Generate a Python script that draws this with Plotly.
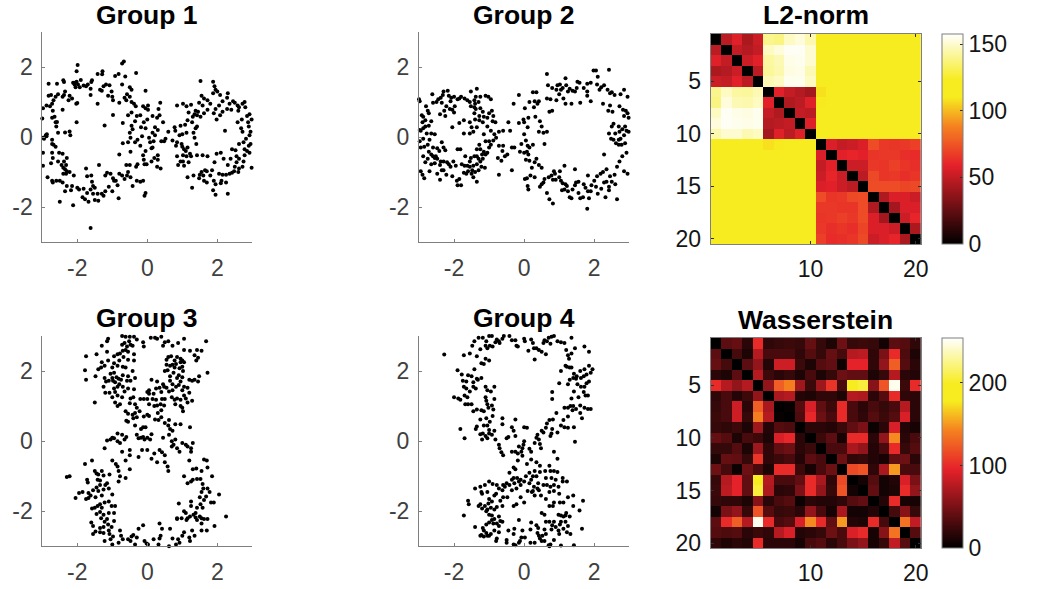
import plotly.graph_objects as go

group1 = [(-0.67,2.16),(-0.72,2.10),(-1.99,2.06),(-2.02,1.88),(-1.28,1.88),(-1.42,1.80),(-1.29,1.79),(-0.82,1.80),(-0.92,1.74),(-0.63,1.73),(-0.32,1.83),
(-2.82,1.52),(-2.58,1.52),(-2.40,1.62),(-2.38,1.57),(-2.07,1.55),(-2.12,1.55),(-2.02,1.58),(-1.98,1.50),(-1.90,1.63),(-2.08,1.50),(-2.05,1.42),(-1.93,1.42),(-1.82,1.47),(-1.75,1.45),(-1.62,1.38),(-1.60,1.57),(-1.58,1.62),(-1.35,1.35),(-1.25,1.45),(-1.18,1.50),(-1.08,1.48),(-1.30,1.32),(-0.72,1.50),(-0.50,1.42),(-0.45,1.35),(-0.05,1.32),(-1.12,1.18),(-1.02,1.30),(-1.00,1.15),(-0.98,1.05),(-0.80,0.98),(-0.65,1.12),(-0.60,1.05),(-0.58,1.22),(-0.50,1.15),(-0.45,1.00),(-0.38,0.95),(-0.33,0.88),(-1.62,1.20),(-1.42,0.95),
(-3.00,0.53),(-2.98,0.82),(-2.88,0.90),(-2.82,1.18),(-2.78,0.88),(-2.72,0.95),(-2.70,0.75),(-2.65,0.58),(-2.62,1.15),(-2.55,1.22),(-2.68,1.05),(-2.72,0.55),(-2.62,0.42),(-2.58,0.43),(-2.60,0.30),(-2.55,0.12),(-2.35,1.30),(-2.42,1.15),(-2.38,1.20),(-2.25,1.05),(-2.22,1.18),(-2.15,1.10),(-2.42,0.78),(-2.03,0.95),(-2.00,0.97),(-2.02,0.42),(-2.35,0.13),(-2.22,0.16),(-2.20,0.05),(-2.90,0.05),(-2.87,0.08),(-2.98,-0.02),(-2.95,-0.05),(-2.88,0.02),(-2.72,-0.08),(-2.72,-0.20),(-2.62,-0.28),(-2.98,-0.45),(-2.98,-0.82),(-2.68,-0.22),(-2.72,-0.45),(-2.70,-0.60),(-2.52,-0.45),(-2.42,-0.48),(-2.55,-0.70),(-2.45,-0.80),(-2.40,-0.88),(-2.32,-0.80),(-2.35,-0.92),(-2.30,-0.98),(-2.75,-0.75),(-2.85,-1.15),(-2.72,-1.25),(-2.70,-1.30),(-2.60,-1.25),(-2.50,-1.25),(-2.40,-1.05),(-2.32,-1.05),(-2.22,-1.00),(-2.42,-1.30),(-2.35,-1.55),(-2.30,-1.40),(-2.10,-1.10),(-2.15,-1.40),(-2.00,-1.45),(-1.95,-1.50),(-2.50,-1.85),(-2.12,-1.95),(-2.18,-1.52),
(-1.75,-0.90),(-1.72,-1.12),(-1.60,-1.10),(-1.38,-0.80),(-1.58,-1.28),(-1.55,-1.40),(-1.50,-1.45),(-1.62,-1.50),(-1.72,-1.60),(-1.82,-1.48),(-1.85,-1.72),(-1.78,-1.78),(-1.68,-1.85),(-1.55,-1.62),(-1.50,-1.80),(-1.42,-1.62),(-1.40,-1.82),(-1.30,-1.62),(-1.25,-1.68),(-1.20,-1.55),(-1.10,-1.42),(-1.20,-1.10),(-1.15,-1.02),(-1.05,-1.05),(-0.98,-1.18),(-0.95,-1.25),(-1.00,-1.55),(-0.90,-1.25),(-0.85,-1.38),(-0.82,-1.75),(-0.80,-1.05),(-0.72,-1.10),(-0.60,-0.80),(-1.62,-2.60),(-0.65,-1.20),(-0.80,-0.50),(-0.58,-1.10),
(-0.50,-0.80),(-0.55,-1.00),(-0.48,-1.15),(-0.42,-1.40),(-0.30,-1.25),(-0.32,-0.85),(-0.28,-0.78),(-0.20,-1.28),(-0.12,-1.25),(-0.08,-0.78),(-0.02,-0.78),(-0.05,-1.60),(-0.08,-1.68),(0.28,-0.85),(0.38,-0.90),(0.30,-0.65),(-0.70,-0.18),(-0.55,-0.15),(-0.48,-0.02),(-0.50,0.12),(-0.42,0.22),(-0.45,0.32),(-0.48,-0.42),(-0.35,-0.15),(-0.28,-0.08),(-0.20,-0.25),(-0.15,0.02),(-0.12,-0.52),(-0.10,-0.65),(-0.05,-0.40),(-0.18,0.28),(-0.10,0.42),(-0.05,0.25),(0.00,0.50),(0.05,-0.02),(0.08,-0.15),(0.15,-0.30),(0.15,0.12),(0.22,0.05),(0.12,-0.32),(0.18,-0.12),(0.30,-0.52),(0.20,-0.60),(0.12,-0.70),(0.30,0.20),(0.45,0.42),(0.28,0.55),(0.22,0.28),(0.15,0.60),(0.35,0.62),(0.32,0.80),(0.37,0.98),(-0.55,0.62),(-0.45,0.70),(-0.30,0.60),(-0.20,0.62),(-0.05,0.82),(-0.12,0.88),(0.02,0.78),(0.02,0.90),(-1.22,0.33),(-0.98,0.63),
(0.40,-0.12),(0.48,-0.12),(0.52,-0.05),(0.60,0.15),(0.72,-0.10),(0.78,0.28),(0.80,0.18),(0.82,-0.25),(0.85,-0.15),(0.85,-0.55),(0.88,-0.80),(0.92,0.05),(0.95,0.32),(0.98,-0.20),(1.00,0.08),(1.02,-0.52),(1.05,-0.35),(1.05,-0.82),(1.08,0.35),(1.12,0.12),(1.15,0.48),(1.18,-0.72),(1.22,-0.48),(1.25,-0.55),(1.28,0.42),(1.32,0.12),(1.35,-0.02),(1.38,0.25),(1.42,0.30),(0.85,0.90),(1.02,0.95),(1.12,0.88),(1.18,0.70),(1.25,0.92),(1.38,0.75),(1.42,0.62),(1.52,0.58),(1.58,0.90),(1.55,1.18),(1.52,1.60),(1.62,1.10),(1.72,1.05),(1.48,0.98),(1.88,1.58),(1.92,1.45),(1.95,1.35),(2.00,1.30),(1.88,1.25),(2.08,1.20),(2.30,1.25),(2.28,1.12),(2.15,1.02),(2.05,0.90),(1.95,0.80),(1.90,0.68),(1.98,0.50),(2.08,0.62),(2.15,0.72),(2.28,0.80),(2.40,0.78),(2.45,1.02),(2.50,0.98),(2.58,0.90),(2.62,0.85),(2.72,0.95),(2.78,1.00),(2.85,0.60),(2.92,0.65),(2.70,0.50),(2.58,0.42),(2.68,0.25),(2.72,0.15),(2.88,0.42),(2.90,0.30),(2.98,0.50),(2.95,0.15),(2.92,0.05),(2.82,-0.05),(2.75,-0.15),(2.62,-0.20),(2.52,-0.38),(2.42,-0.35),(2.22,0.18),(2.98,-0.88),
(2.90,-0.25),(2.85,-0.40),(2.92,-0.45),(2.78,-0.52),(2.62,-0.62),(2.55,-0.72),(2.62,-0.90),(2.72,-0.85),(2.48,-0.98),(2.42,-1.02),(2.35,-1.05),(2.25,-1.08),(2.15,-1.08),(2.05,-1.05),(2.30,-0.80),(2.18,-0.62),(2.10,-0.45),(1.98,-0.48),(1.92,-0.72),(1.85,-0.95),(1.80,-1.10),(1.90,-1.25),(1.95,-1.35),(2.10,-1.32),(2.25,-1.30),(2.30,-1.62),(1.88,-1.52),(1.95,-1.65),(1.65,-0.95),(1.55,-1.00),(1.50,-1.08),(1.48,-1.18),(1.62,-1.25),(1.70,-1.30),(1.72,-0.55),(1.58,-0.52),(1.42,-0.52),(1.32,-1.10),(1.15,-1.15),(1.12,-0.55),(1.28,-1.45),(1.40,-0.20),
(1.00,-0.28),(1.10,-0.40),(1.15,-0.30),(0.95,-0.70),(1.02,-0.70),(1.30,0.58),(1.35,0.65),(1.45,0.72),(1.62,0.68),(1.72,0.78),(1.80,0.95),(2.35,0.95),(2.60,0.75),(2.80,0.85),(2.55,-0.55),(2.75,-0.70),(2.38,-0.62),(2.50,-0.85),(2.60,-1.00),(2.12,-1.25),(1.70,-0.98),(1.60,-1.10),(2.95,-0.20),(2.78,-0.35),(-2.30,-0.60),(-2.38,-0.70),(-1.70,1.50),(-2.75,1.20),(-0.35,0.45),(-0.70,0.40)]

group2 = [(-3.00,1.08),(-2.98,1.02),(-2.92,0.62),(-2.88,0.58),(-2.80,0.88),(-2.75,0.75),(-2.72,0.68),(-2.62,1.22),(-2.60,0.98),(-2.50,1.00),(-2.45,1.08),(-2.38,1.12),(-2.30,1.30),(-2.32,1.20),(-2.18,1.32),(-2.15,1.18),(-2.08,1.12),(-2.00,1.15),(-1.90,1.08),(-1.85,1.10),(-1.80,1.15),(-1.70,1.10),(-1.62,1.05),(-1.55,1.00),(-1.52,1.30),(-1.35,1.38),(-1.38,1.15),(-1.25,1.15),(-1.10,1.18),(-1.02,1.15),(-0.95,1.08),(-1.30,1.00),(-1.40,0.95),(-1.42,0.85),(-1.38,0.80),(-1.25,0.82),(-1.18,0.72),(-1.42,0.68),(-1.28,0.60),(-1.15,0.58),(-1.05,0.55),(-1.00,0.68),(-0.92,0.75),(-0.88,0.60),(-0.82,0.42),(-0.90,0.45),(-0.95,0.18),(-1.05,0.30),(-1.18,0.42),(-1.28,0.48),(-1.40,0.50),(-1.55,0.42),(-1.72,0.48),(-1.50,0.28),(-1.55,0.10),(-1.72,0.10),(-1.85,0.40),(-2.05,0.28),(-2.28,0.75),(-2.22,0.88),(-2.12,0.80),(-2.05,0.78),(-1.98,0.88),(-2.00,0.70),(-2.25,0.60),(-2.40,0.65),(-2.65,0.45),(-2.82,0.48),(-2.90,0.42),(-2.98,0.20),(-2.95,0.18),(-2.88,0.25),(-2.82,0.30),(-2.72,0.32),(-2.65,0.10),(-2.55,0.08),(-2.70,-0.08),
(-2.98,-0.12),(-2.95,-0.30),(-2.85,-0.28),(-2.75,-0.22),(-2.72,-0.42),(-2.65,-0.50),(-2.60,-0.55),(-2.52,-0.55),(-2.48,-0.32),(-2.42,-0.40),(-2.35,-0.15),(-2.30,-0.30),(-2.25,-0.38),(-2.88,-0.55),(-2.82,-0.72),(-2.75,-0.62),(-2.65,-0.78),(-2.55,-0.75),(-2.48,-0.62),(-2.38,-0.70),(-2.30,-0.70),(-2.20,-0.72),(-2.15,-0.78),(-2.02,-0.70),(-2.10,-0.85),(-1.95,-0.82),(-1.90,-0.35),(-1.82,-0.35),(-1.68,-0.55),(-1.52,-0.60),(-1.42,-0.55),(-1.70,-0.82),(-1.62,-0.82),(-1.55,-0.85),(-1.45,-0.82),(-1.35,-0.78),(-1.25,-0.70),(-1.18,-0.62),(-1.10,-0.50),(-1.05,-0.45),(-1.00,-0.30),(-1.15,-0.42),(-1.25,-0.35),(-1.35,-0.55),(-1.22,-0.85),(-1.12,-0.88),(-2.95,-0.98),(-2.90,-1.08),(-2.85,-1.18),(-2.70,-0.98),(-2.48,-1.05),(-2.40,-1.22),(-2.30,-0.95),(-2.22,-1.08),(-2.05,-1.12),(-1.92,-1.25),(-1.85,-1.20),(-1.80,-1.38),(-1.72,-1.02),(-1.65,-1.05),(-1.60,-0.98),(-1.50,-1.05),(-1.40,-1.00),(-1.30,-0.95),(-1.45,-1.15),(-1.35,-1.28),(-1.90,-1.38),
(-0.80,-0.02),(-0.88,-0.10),(-1.00,-0.12),(-0.95,-0.22),(-0.85,0.08),(-0.72,-0.25),(-0.60,-0.25),(-0.72,0.15),(-0.60,0.18),(-0.45,0.42),(-0.40,0.18),(-0.35,-0.30),(-0.28,-0.30),(-0.62,-0.40),(-0.55,-0.55),(-0.48,-0.50),(-0.75,-0.60),(-0.65,-0.68),(-0.72,-1.08),(-0.35,-0.95),(-0.15,0.40),(-0.30,0.95),(-0.15,1.20),(0.00,0.08),(0.05,-0.10),(0.10,-0.25),(0.15,-0.30),(-0.08,-0.20),(-0.12,-0.42),(0.00,-0.45),(0.08,-0.42),(0.12,-0.50),(0.05,-0.65),(0.15,-0.68),(0.25,-0.22),(0.30,-0.72),(0.35,-0.62),(0.42,-0.80),(0.50,-0.88),(0.22,-0.88),(-0.02,0.50),(0.00,0.42),(0.10,0.28),(0.12,0.55),(0.02,0.82),(0.15,1.00),(0.28,0.85),(0.32,0.58),(0.38,0.95),(0.30,1.02),(0.35,1.28),(0.25,1.28),(0.42,1.02),(0.45,0.45),(0.42,0.15),(0.50,0.30),(0.55,0.12),(0.58,-0.20),(0.65,0.15),(0.08,-1.18),(0.02,-1.20),(0.10,-1.40),(0.18,-1.10),(0.12,-1.50),(0.30,-1.15),(0.45,-1.42),(0.50,-1.35),(0.55,-1.30),(0.58,-1.20),(0.65,-1.60),(0.72,-1.78),(0.82,-1.90),(0.70,-1.15),(0.78,-1.10),(0.82,-1.22),(0.88,-1.05),(0.85,-0.98),(0.90,-1.22),(1.00,-1.15),(1.05,-1.25),(1.10,-1.32),(1.15,-1.50),(1.08,-1.52),(1.18,-1.35),(1.02,-0.98),(1.22,-1.40),(1.25,-1.55),(1.30,-1.72),(1.38,-1.50),(1.45,-1.38),(1.48,-1.30),(1.55,-1.28),(1.45,-0.92),(1.15,-0.82),
(0.65,1.80),(0.68,1.48),(0.65,1.10),(0.75,1.08),(0.72,0.72),(0.80,0.75),(0.80,1.40),(0.92,1.35),(0.95,1.48),(1.02,1.50),(1.05,1.35),(1.10,1.40),(1.18,1.68),(1.20,1.48),(0.92,1.05),(1.00,1.22),(1.12,1.10),(1.18,0.95),(1.35,0.95),(1.38,1.32),(1.45,1.30),(1.50,1.40),(1.52,1.58),(1.58,1.55),(1.60,0.98),(1.70,1.40),(1.80,1.30),(1.80,1.52),(1.90,1.55),(1.80,1.18),(1.90,1.02),(1.98,1.90),(2.05,1.90),(2.10,1.72),(2.08,1.50),(2.15,1.35),(2.20,1.42),(2.28,1.48),(2.42,1.92),(2.38,1.35),(2.50,1.28),(2.58,1.20),(2.45,1.25),(2.45,0.90),(2.25,0.95),(2.40,0.75),(2.52,0.72),(2.75,1.22),(2.85,1.35),(2.95,1.15),(2.72,0.88),(2.82,0.78),(2.90,0.75),(2.95,0.68),(2.85,0.60),(2.98,0.55),(2.88,0.30),(2.80,0.22),(2.70,0.30),(2.55,0.38),(2.50,0.30),(2.42,0.10),(2.92,0.18),(2.98,0.15),(2.48,-0.05),(2.55,-0.08),(2.70,-0.08),(2.75,-0.05),(2.88,-0.18),(2.70,-0.22),(2.78,-0.22),(2.92,-0.45),(2.80,-0.55),(2.28,-0.50),(2.72,-0.70),(2.65,-0.85),(2.85,-0.98),(2.95,-1.05),(2.58,-1.08),(2.45,-1.12),(2.35,-0.92),(2.25,-1.00),(2.18,-1.05),(2.08,-1.12),(2.00,-1.25),(2.28,-1.30),(2.35,-1.28),(2.50,-1.28),(2.60,-1.35),(2.42,-1.42),(2.42,-1.52),(2.20,-1.48),(2.05,-1.42),(1.92,-1.38),(2.10,-1.62),(2.32,-1.72),(2.65,-1.78),(1.80,-2.05),(1.85,-1.75),(1.68,-1.72),(1.60,-1.75),(1.55,-1.60),(1.82,-1.55),(1.90,-1.55),(1.82,-1.10),(1.75,-1.45),(1.70,-1.35),(1.35,-1.75),
(-2.40,-0.80),(-2.35,-0.95),(-2.55,-0.60),(-1.78,-0.78),(-1.55,-0.70),(-1.48,-0.95),(-1.30,-0.62),(-1.35,-0.35),(-1.20,-0.50),(-1.28,-0.22),(-1.45,0.15),(-1.35,0.28),(-1.15,0.08),(-1.10,-0.12),(-1.42,1.05),(-1.52,0.88),(-2.35,0.98),(-2.10,1.02),(-2.78,0.10),(-2.88,-0.05),(-2.60,-0.30),(2.60,0.10),(2.62,-0.18),(2.72,0.15),(2.85,0.05),(1.25,1.30),(1.30,1.38)]

group3 = [(-1.12,2.92),(-1.15,2.85),(-0.72,3.00),(-0.62,2.98),(-0.50,2.98),(-0.38,2.98),(-0.30,2.90),(-0.52,2.85),(-0.65,2.80),(-0.72,2.75),(-0.58,2.70),(-0.48,2.75),(-0.42,2.72),(-0.12,2.82),(-0.10,2.70),(0.10,2.95),(0.22,2.95),(0.28,2.92),(0.40,2.98),(0.60,2.85),(0.50,2.82),(0.45,2.72),(0.72,2.72),(0.88,2.80),(1.05,2.92),(1.05,2.60),(1.68,2.85),(1.22,2.58),(1.35,2.45),(1.42,2.60),(1.55,2.58),(1.45,2.38),(1.40,2.30),(-1.75,2.42),(-1.45,2.48),(-1.15,2.55),(-1.30,2.72),(-0.95,2.42),(-0.85,2.48),(-0.78,2.50),(-0.70,2.58),(-0.62,2.60),(-0.55,2.55),(-0.38,2.48),(-0.55,2.32),(-0.38,2.30),(-0.80,2.30),(-0.95,2.22),(-1.12,2.30),(-1.22,2.15),(-1.32,2.10),(-1.30,2.25),(-1.00,2.10),(-0.85,2.15),(-0.70,2.12),(-0.62,2.10),(-0.42,2.00),(-1.78,2.02),(-1.75,1.75),(-1.48,1.85),(-1.40,2.05),(-1.22,1.80),(-1.18,1.70),(-1.10,1.72),(-1.00,1.80),(-0.98,1.72),(-0.92,1.68),(-0.88,1.82),(-0.82,1.78),(-0.70,1.88),(-0.55,1.85),(-0.35,1.80),(-0.80,1.62),(-0.85,1.55),(-0.70,1.55),(-0.65,1.42),(-0.55,1.50),(-0.48,1.72),(-0.38,1.48),(-1.25,1.55),(-1.20,1.38),(-1.08,1.38),(-0.95,1.50),(-0.92,1.40),(-1.00,1.25),(-0.85,1.30),(-0.72,1.25),(-1.50,1.10),(-0.92,1.10),(-0.85,1.00),(-0.78,1.05),(-0.48,1.22),(-0.40,1.25),(-0.50,1.08),(-0.35,1.05),(-0.30,0.95),(-0.62,0.85),(-0.55,0.78),(-0.42,0.75),(-0.35,0.80),(-0.22,0.85),(-0.60,0.58),(-0.55,0.55),(-0.40,0.65),(-0.30,0.68),(-0.10,0.70),(0.00,0.75),(0.05,0.72),(0.05,1.45),(0.05,1.35),(0.00,1.40),(-0.20,1.20),(-0.10,1.20),(0.00,1.20),(0.15,1.20),(0.25,1.18),(0.05,1.05),(0.20,1.00),(0.28,1.02),(0.38,1.05),(0.48,1.02),(0.42,1.20),(0.50,1.20),(0.40,0.88),(0.30,0.80),(0.22,0.62),(0.32,0.60),(0.40,0.68),(0.50,0.52),(0.62,0.60),(0.60,0.45),(0.25,1.50),(0.35,1.52),(0.40,1.40),(0.48,1.55),(0.55,1.52),(0.62,1.42),(0.28,1.70),(0.45,1.62),(0.12,1.75),(0.65,1.72),(0.72,1.62),(0.82,1.55),(0.90,1.60),(0.95,1.70),(1.05,1.55),(1.15,1.52),(1.20,1.38),(1.05,1.30),(0.85,1.22),(0.78,1.18),(0.70,1.25),(0.95,1.18),(1.10,1.22),(1.28,1.15),(0.80,1.05),(0.95,1.00),(1.00,0.95),(1.02,0.85),(0.65,1.85),(0.75,1.95),(0.85,1.80),(0.90,1.88),(1.00,1.82),(1.02,2.00),(0.92,2.08),(1.00,2.12),(0.78,2.10),(0.72,2.18),(0.55,2.18),(0.50,2.00),(0.58,2.02),(0.65,2.15),(0.55,2.32),(0.60,2.40),(0.68,2.42),(0.78,2.30),(0.85,2.40),(0.95,2.35),(0.95,2.25),(1.00,2.30),(1.05,2.25),(1.20,1.75),(1.28,1.72),(1.35,1.75),(1.45,1.70),(1.48,1.85),
(1.72,1.95),(-0.35,0.45),(0.65,0.35),(0.80,0.48),(0.72,0.30),(0.95,0.48),(1.22,0.40),(-0.30,0.18),(-0.18,0.35),(-0.12,0.40),(-0.05,0.40),(-0.25,0.08),(-0.18,0.10),(-0.12,0.12),(-0.08,0.05),(0.00,0.10),(0.08,0.05),(0.12,0.20),(0.45,0.10),(0.62,0.18),(-0.72,0.18),(-0.85,0.22),(-1.00,0.10),(-0.95,0.08),(-1.15,0.02),(-1.05,0.05),(-0.85,0.00),(-0.78,-0.05),(-0.65,0.05),(-0.60,0.12),(-1.22,-0.20),(-0.72,-0.30),(-0.50,-0.25),(-0.15,-0.25),(0.00,-0.25),(0.12,-0.50),(0.20,-0.35),(0.28,-0.60),(0.35,-0.25),(0.42,-0.32),(0.50,-0.40),(0.75,-0.10),(0.70,-0.15),(0.85,-0.20),(0.70,0.00),(0.80,0.05),(0.92,-0.30),(1.00,-0.05),(1.10,-0.10),(1.15,-0.15),(1.25,-0.20),(1.30,-0.05),(1.25,-0.30),(1.20,-0.55),(0.50,-0.60),(0.58,-0.72),(0.60,-0.85),
(-1.58,-0.55),(-0.90,-0.65),(-1.00,-0.55),(-0.85,-0.72),(-0.62,-0.55),(-0.50,-0.40),(-0.25,-0.45),(-1.78,-0.65),(-1.50,-0.85),(-1.40,-0.95),(-1.30,-0.85),(-1.45,-0.92),(-1.25,-0.98),(-1.08,-0.95),(-0.82,-0.85),(-0.78,-1.00),(-0.62,-1.05),(-0.50,-0.80),(-2.30,-1.02),(-2.22,-1.00),(-1.72,-1.10),(-1.70,-1.18),(-1.35,-1.12),(-1.35,-1.25),(-1.45,-1.32),(-1.40,-1.42),(-1.20,-1.25),(-1.15,-1.20),(-0.82,-1.15),(-1.00,-1.52),(-1.55,-1.40),(-1.68,-1.48),(-1.85,-1.45),(-1.95,-1.48),(-2.05,-1.62),(-1.75,-1.65),(-1.68,-1.62),(-1.62,-1.55),(-1.48,-1.60),(-1.30,-1.55),(-1.22,-1.75),(-1.10,-1.72),(-1.58,-1.92),(-1.50,-1.90),(-1.42,-1.85),(-1.35,-1.80),(-1.30,-1.90),(-1.02,-1.85),(-0.92,-1.85),(-1.35,-2.02),(-1.25,-2.10),(-1.10,-2.05),(-0.95,-2.05),(-1.15,-2.22),(-1.22,-2.30),(-0.95,-2.28),(-1.60,-2.32),(-1.55,-2.42),(-1.48,-2.58),(-1.35,-2.48),(-1.25,-2.45),(-1.12,-2.38),(-1.35,-2.60),(-1.10,-2.55),(-1.25,-2.62),(-1.55,-2.65),(-1.08,-2.65),(-1.22,-2.85),(-1.05,-2.80),(-0.98,-2.72),(-1.00,-2.95),(-0.78,-2.55),(-0.75,-2.70),(-0.70,-2.80),(-0.55,-2.80),(-0.45,-2.72),(-0.40,-2.68),(-0.30,-2.75),(-0.48,-2.85),(-0.35,-2.95),(-0.25,-2.50),(-0.12,-2.40),(-0.08,-2.85),(-0.02,-2.92),(0.02,-2.95),(0.18,-2.80),(0.32,-2.95),(0.35,-2.78),(0.38,-2.70),(0.35,-2.35),(0.42,-2.50),(0.65,-2.50),(0.62,-3.00),(0.72,-2.78),(0.82,-2.95),(0.92,-2.90),(0.88,-2.80),(1.05,-2.60),(1.00,-2.70),(1.20,-2.75),(1.35,-2.70),(1.28,-2.55),(1.22,-2.85),(0.85,-2.20),(0.85,-2.22),(0.98,-2.20),(1.05,-2.00),(1.12,-2.25),(1.15,-2.20),(1.22,-2.15),(1.25,-1.85),(1.25,-1.72),(1.32,-2.10),(1.38,-2.18),(1.42,-2.25),(1.50,-2.15),(1.55,-2.20),(1.62,-2.22),(1.72,-2.22),(1.55,-2.35),(1.55,-2.55),(1.70,-2.55),(1.92,-2.42),(2.25,-2.15),(1.50,-1.60),(1.52,-1.80),(1.58,-1.90),(0.90,-1.78),(1.55,-1.45),(1.60,-1.35),(1.72,-1.35),(1.78,-1.45),(1.82,-1.75),(1.90,-1.75),(2.05,-1.52),(1.58,-1.22),(1.30,-1.10),(1.42,-1.08),(1.52,-1.08),(1.25,-1.15),(1.05,-1.00),(1.15,-1.20),(1.55,-0.85),(1.40,-0.78),(1.30,-0.80),(1.72,-0.75),(1.62,-0.52),(1.70,-0.55),(1.85,-1.00),
(-1.42,-1.10),(-1.25,-1.38),(-1.10,-1.35),(-1.45,-2.08),(-1.32,-2.20),(-1.02,-2.45),(-0.82,-2.90),(1.10,-2.05),(1.38,-2.05),(1.42,-1.90),(1.62,-1.68),(1.68,-1.58),(-0.58,1.72),(-0.75,1.75),(-0.95,1.95),(-1.05,1.92),(-0.68,2.40),(0.82,2.20),(0.72,1.45),(1.00,1.45),(0.18,1.35),(1.15,1.10)]

group4 = [(-2.28,2.47),(-1.72,2.45),(-1.55,2.50),(-1.48,2.72),(-1.42,2.85),(-1.30,2.95),(-1.18,2.95),(-1.00,3.00),(-0.92,3.00),(-1.08,2.85),(-1.10,2.72),(-1.05,2.65),(-0.98,2.72),(-0.90,2.70),(-0.82,2.82),(-0.78,2.90),(-0.72,2.85),(-0.70,2.80),(-0.62,2.92),(-0.58,3.00),(-0.42,3.00),(-0.35,2.88),(-0.25,2.88),(-0.18,2.70),(-0.22,2.72),(0.00,2.92),(0.02,2.85),(0.20,2.90),(0.25,2.80),(0.28,2.65),(0.35,2.65),(0.12,2.58),(0.30,2.33),(0.42,2.60),(0.50,2.55),(0.55,2.80),(0.58,2.88),(0.65,2.85),(0.70,2.95),(0.78,2.98),(0.85,3.00),(0.62,2.48),(0.75,2.78),(0.95,2.85),(1.05,2.82),(1.15,2.80),(1.35,2.95),(1.20,2.60),(1.45,2.65),(1.72,2.70),(1.85,2.55),
(-1.25,2.62),(-1.35,2.42),(-1.10,2.35),(-1.00,2.30),(-1.22,2.22),(-1.15,2.20),(-1.42,2.05),(-1.50,1.85),(-1.90,2.02),(-1.78,1.90),(-1.75,1.72),(-1.65,1.70),(-1.60,1.88),(-1.45,1.68),(-1.35,1.78),(-1.32,1.75),(-1.22,1.80),(-1.72,1.55),(-1.65,1.50),(-1.55,1.42),(-1.45,1.55),(-1.38,1.50),(-1.10,1.55),(-1.05,1.45),(-0.85,1.55),(-0.95,1.42),(-2.00,1.25),(-1.88,1.22),(-1.82,1.18),(-1.70,1.30),(-1.62,1.25),(-1.68,1.05),(-1.60,1.05),(-1.50,1.05),(-1.10,1.25),(-1.08,1.15),(-0.85,1.20),(-1.05,1.05),(-1.02,0.95),(-0.92,1.02),(-1.45,0.85),(-1.35,0.90),(-1.22,0.88),(-1.15,0.85),(-0.88,0.90),(-1.25,0.62),(-1.08,0.65),(-0.90,0.72),(-0.98,0.55),(-0.62,0.65),(-0.62,0.48),(-1.82,0.35),(-1.35,0.42),(-1.38,0.35),(-1.15,0.45),(-1.05,0.45),(-1.00,0.32),(-0.85,0.30),(-1.25,0.20),(-1.18,0.22),(-1.10,0.15),(-1.00,0.22),(-0.92,0.18),(-1.70,0.08),(-1.20,0.05),(-1.05,0.08),(-0.82,0.05),(-0.72,-0.10),(-0.70,-0.20),(-0.65,-0.32),(-0.60,-0.40),(-0.50,0.08),(-0.45,0.12),(-0.35,0.40),(-0.30,0.30),(-0.25,0.62),(-0.25,0.15),(-0.35,-0.30),(-0.25,-0.30),(-0.18,-0.35),(-0.15,-0.15),(-0.08,-0.30),(-0.05,-0.20),(0.00,0.40),(0.08,0.38),(-0.02,-0.10),(0.00,0.00),(0.15,-0.22),(0.20,-0.30),(0.30,-0.05),(0.35,0.10),(0.38,0.18),(0.42,0.05),(0.45,-0.08),(0.48,-0.20),(0.50,0.30),(0.55,0.25),(0.65,0.50),(0.62,0.38),(0.72,0.60),(0.75,0.15),(0.78,0.22),(0.80,0.35),(0.82,0.62),(0.95,0.25),(1.05,0.45),(1.15,0.40),(1.25,0.38),(1.42,0.40),(1.45,-0.02),(1.12,0.60),(1.25,0.70),(0.92,0.80),(1.15,0.95),(1.25,0.95),(1.32,1.00),(1.38,0.88),(1.40,1.00),(1.60,1.02),(1.72,0.95),(1.82,0.92),(1.90,0.92),(1.60,0.80),(1.65,0.65),(0.80,1.20),(0.80,1.40),(1.00,1.65),(1.35,1.22),(1.42,1.42),(1.55,1.25),(1.70,1.40),(1.75,1.30),(1.82,1.30),(1.62,1.55),(1.72,1.55),(1.78,1.65),(1.85,1.70),(1.25,1.62),(1.30,1.75),(1.40,1.80),(1.50,1.85),(1.62,1.80),(1.70,1.85),(1.78,1.90),(1.90,1.95),(1.60,2.00),(1.72,2.05),(1.85,2.15),(1.95,2.05),(1.22,2.12),(1.05,2.00),(1.18,2.15),(1.30,2.10),(1.42,1.92),(1.25,2.45),(1.28,2.35),(1.35,2.50),(1.35,2.10),
(0.85,-0.30),(0.95,-0.50),(-0.30,-0.75),(-0.25,-0.80),(-0.18,-0.55),(-0.05,-0.42),(0.08,-0.65),(0.20,-0.52),(0.35,-0.60),(0.45,-0.70),(0.72,-0.70),(0.75,-0.85),(0.85,-0.85),(0.95,-0.88),(1.10,-1.05),(-0.42,-0.90),(-0.30,-1.05),(-0.20,-1.05),(-0.10,-1.10),(0.00,-1.15),(0.05,-1.00),(0.15,-0.90),(0.25,-1.00),(0.30,-0.85),(0.35,-1.00),(0.45,-0.88),(0.60,-0.85),(0.62,-1.05),(-1.25,-1.30),(-1.22,-1.45),(-1.20,-1.50),(-1.12,-1.25),(-1.00,-1.15),(-0.90,-1.22),(-0.78,-1.25),(-0.72,-1.35),(-0.62,-1.40),(-0.50,-1.20),(-0.42,-1.25),(-0.35,-1.10),(-0.28,-1.20),(-0.15,-1.15),(0.15,-1.20),(0.20,-1.10),(0.28,-1.30),(0.40,-1.20),(0.55,-1.25),(0.65,-1.25),(0.75,-1.30),(0.85,-1.25),(0.98,-1.30),(1.10,-1.15),(-1.40,-1.35),(-1.05,-1.45),(-0.80,-1.50),(-0.60,-1.60),(-0.48,-1.60),(-0.35,-1.40),(-0.22,-1.35),(-0.10,-1.60),(0.00,-1.75),(0.10,-1.42),(0.22,-1.45),(0.30,-1.55),(0.42,-1.40),(0.48,-1.55),(0.62,-1.65),(0.72,-1.45),(0.85,-1.42),(1.00,-1.50),(1.02,-1.75),(0.85,-1.75),(-1.60,-1.70),(-1.58,-1.80),(-1.25,-1.80),(-1.12,-1.85),(-1.00,-1.65),(-0.92,-1.72),(-0.85,-1.55),(-0.68,-1.70),(-0.62,-1.85),(-0.30,-1.85),(-0.22,-1.80),(0.72,-1.85),(0.82,-1.85),(1.12,-1.75),(1.25,-1.60),(1.40,-1.55),(1.68,-1.70),(1.40,-1.85),(1.58,-1.98),
(-1.30,-1.85),(-1.20,-1.92),(-1.05,-1.95),(-0.95,-1.90),(-0.85,-1.95),(-1.08,-2.00),(-1.00,-2.10),(-0.92,-2.12),(-0.72,-2.15),(-1.72,-2.12),(-0.68,-2.28),(-0.62,-2.30),(-0.78,-2.35),(-0.88,-2.35),(-1.00,-2.32),(-1.08,-2.38),(-0.72,-2.42),(0.50,-2.05),(0.58,-2.10),(0.62,-2.30),(0.72,-2.30),(0.85,-2.30),(0.80,-2.40),(0.98,-2.10),(1.05,-2.12),(1.12,-2.15),(1.20,-2.05),(1.30,-2.15),(1.18,-2.30),(1.05,-2.30),(1.25,-2.42),(1.12,-2.50),(0.98,-2.55),(0.90,-2.45),(0.58,-2.52),(0.78,-2.52),(1.65,-2.50),(1.32,-2.65),(1.22,-2.60),(1.00,-2.65),(0.20,-2.32),(0.35,-2.40),(0.40,-2.48),(-0.15,-2.25),(-1.40,-2.45),(-1.18,-2.48),(-1.15,-2.55),(-1.08,-2.62),(-1.05,-2.70),(-1.22,-2.68),(-1.25,-2.70),(-0.95,-2.65),(-0.72,-2.60),(-0.85,-2.55),(-0.45,-2.55),(-0.28,-2.50),(-0.30,-2.65),(-0.05,-2.55),(0.02,-2.75),(-0.08,-2.75),(-0.12,-2.85),(0.18,-2.52),(0.38,-2.62),(0.42,-2.70),(0.45,-2.78),(0.52,-2.70),(0.50,-2.85),(0.58,-2.85),(-0.80,-2.85),(-0.78,-2.78),(-1.15,-2.72),(-1.00,-2.70),(-0.50,-2.82),(-0.50,-2.90),(-0.30,-2.95),(-0.25,-2.97),(-0.15,-2.90),(0.18,-2.90),(0.30,-2.90),(0.72,-3.00),(0.70,-2.97),(0.75,-2.95),(1.05,-2.98),(1.42,-2.97),(0.85,-2.82),(0.62,-2.65),
(-0.60,-1.25),(-0.55,-1.30),(-0.10,-1.25),(0.25,-1.42),(0.38,-1.35),(0.78,-1.05),(0.90,-1.10),(-1.02,-1.78),(-0.78,-1.88),(1.22,-1.15),(1.02,-2.38),(1.18,-2.12),(-0.85,-2.22),(-0.92,-2.25),(1.48,0.92),(1.52,1.62),(1.48,1.78)]

l2_upper = [
 [48,57,44,52,140,138,148,152,145,112,116,116,114,116,118,118,118,117,117],
 [50,46,50,148,152,156,156,150,114,116,117,116,117,118,118,118,118,118],
 [52,58,143,146,154,155,150,114,116,116,116,116,117,117,118,118,118],
 [48,142,145,153,154,146,112,116,116,114,117,116,116,117,118,118],
 [146,148,155,155,148,112,116,116,116,115,116,116,116,116,117],
 [58,50,46,42,108,114,117,118,116,117,118,118,118,118],
 [45,48,57,110,116,117,116,116,118,119,118,118,118],
 [50,48,114,116,117,116,116,121,119,119,119,119],
 [57,114,116,117,116,116,121,121,121,122,121],
 [115,116,117,116,117,119,119,118,117,119],
 [56,50,52,56,72,66,65,66,68],
 [58,60,58,65,66,66,63,62],
 [52,52,66,65,68,65,63],
 [48,71,65,66,63,65],
 [72,72,72,70,71],
 [45,56,56,52],
 [42,56,56],
 [52,60],
 [44],
]

wass_upper = [
 [38,42,18,100,20,22,25,22,42,22,12,45,22,25,22,8,38,35,20],
 [28,12,75,30,30,30,20,35,22,42,28,75,78,20,50,100,32,12],
 [38,60,15,85,85,25,12,35,40,5,95,95,20,60,125,35,18],
 [75,25,18,22,12,30,12,22,45,40,40,12,22,75,18,15],
 [60,125,140,65,25,65,105,30,195,205,55,120,250,25,100],
 [70,75,15,12,20,20,12,75,72,18,35,100,20,18],
 [3,35,90,40,25,100,30,18,30,22,30,75,18],
 [32,98,45,30,100,30,20,35,25,35,90,18],
 [18,18,15,25,40,50,5,18,90,15,10],
 [25,38,10,100,100,18,60,145,18,30],
 [30,30,70,60,15,30,100,22,35],
 [45,20,22,15,10,40,45,18],
 [115,120,20,70,150,30,30],
 [8,35,8,15,90,50],
 [40,8,12,100,60],
 [15,100,10,10],
 [28,55,22],
 [135,80],
 [35],
]

heat_index = list(range(1, 21))
scatter_ticks = [-2, 0, 2]
scatter_tick_text = ["-2", "0", "2"]
heat_xticks = [10, 20]
heat_yticks = [5, 10, 15, 20]
l2_cbar_ticks = [0, 50, 100, 150]
wass_cbar_ticks = [0, 100, 200]

W, H = 1039, 589
LINE = "#7f7f7f"
TICK_TEXT = "#404040"
HEAT_TEXT = "#151515"
FONT = "Liberation Sans"
TITLE_SIZE = 26.5
HOT = [[0, "#000000"], [0.375, "#e6212a"], [0.56, "#f58220"], [0.70, "#f7ec1f"], [0.78, "#f7ec1f"], [1, "#ffffff"]]


def full_matrix(upper):
    n = len(upper) + 1
    m = [[0] * n for _ in range(n)]
    for i, row in enumerate(upper):
        for k, v in enumerate(row):
            m[i][i + k + 1] = v
            m[i + k + 1][i] = v
    return m


fig = go.Figure()


def dom_x(a, b):
    return [a / W, b / W]


def dom_y(top, bottom):
    return [1 - bottom / H, 1 - top / H]


panels = [
    ("Group 1", group1, 42.3, 252.3, 32, 242, 15.5),
    ("Group 2", group2, 419, 629.3, 32, 242, 15.5),
    ("Group 3", group3, 42.3, 252.3, 336, 546.3, 318),
    ("Group 4", group4, 419, 629.3, 336, 546.3, 318),
]
annotations = []
for i, (title, pts, x0, x1, y0, y1, ty) in enumerate(panels, start=1):
    fig.add_trace(go.Scatter(
        x=[p[0] for p in pts], y=[p[1] for p in pts], mode="markers",
        marker=dict(color="black", size=4), xaxis=f"x{i}", yaxis=f"y{i}",
        cliponaxis=False, showlegend=False))
    axis = dict(range=[-3, 3], tickvals=scatter_ticks, ticktext=scatter_tick_text, ticks="inside", ticklen=3,
                tickcolor=LINE, showline=True, linecolor=LINE, linewidth=1, showgrid=False, zeroline=False,
                tickfont=dict(size=23, color=TICK_TEXT, family=FONT))
    fig.layout[f"xaxis{i}"] = dict(axis, domain=dom_x(x0, x1), anchor=f"y{i}", ticklabelstandoff=5)
    fig.layout[f"yaxis{i}"] = dict(axis, domain=dom_y(y0, y1), anchor=f"x{i}", ticklabelstandoff=4)
    annotations.append(dict(text=f"<b>{title}</b>", x=(x0 + x1) / 2 / W, y=1 - ty / H, xref="paper", yref="paper",
                            showarrow=False, xanchor="center", yanchor="middle",
                            font=dict(size=TITLE_SIZE, color="black", family=FONT)))

heats = [
    ("L2-norm", full_matrix(l2_upper), 157.5, l2_cbar_ticks, 34, 244, 15.5),
    ("Wasserstein", full_matrix(wass_upper), 254, wass_cbar_ticks, 338, 548.3, 320),
]
for j, (title, z, zmax, cticks, y0, y1, ty) in enumerate(heats, start=5):
    x0, x1 = 710.7, 921
    fig.add_trace(go.Heatmap(
        z=z, x=heat_index, y=heat_index, zmin=0, zmax=zmax, colorscale=HOT, xaxis=f"x{j}", yaxis=f"y{j}",
        colorbar=dict(x=941.7 / W, xanchor="left", xpad=0, y=1 - (y0 + y1) / 2 / H, yanchor="middle", ypad=0,
                      len=(y1 - y0) / H, lenmode="fraction", thickness=20.5, thicknessmode="pixels",
                      tickvals=cticks, ticks="inside", ticklen=3, tickcolor="#303030",
                      outlinecolor=LINE, outlinewidth=1,
                      tickfont=dict(size=23, color=HEAT_TEXT, family=FONT))))
    common = dict(ticks="inside", ticklen=3, tickcolor="#303030", showline=True, linecolor=LINE, linewidth=1,
                  mirror="ticks", showgrid=False, zeroline=False,
                  tickfont=dict(size=23, color=HEAT_TEXT, family=FONT))
    fig.layout[f"xaxis{j}"] = dict(common, range=[0.5, 20.5], tickvals=heat_xticks, domain=dom_x(x0, x1),
                                   anchor=f"y{j}", ticklabelstandoff=4)
    fig.layout[f"yaxis{j}"] = dict(common, range=[20.5, 0.5], tickvals=heat_yticks, domain=dom_y(y0, y1),
                                   anchor=f"x{j}", ticklabelstandoff=4)
    annotations.append(dict(text=f"<b>{title}</b>", x=(x0 + x1) / 2 / W, y=1 - ty / H, xref="paper", yref="paper",
                            showarrow=False, xanchor="center", yanchor="middle",
                            font=dict(size=TITLE_SIZE, color="black", family=FONT)))

fig.update_layout(width=W, height=H, margin=dict(l=0, r=0, t=0, b=0, autoexpand=False), autosize=False,
                  paper_bgcolor="white", plot_bgcolor="white", annotations=annotations,
                  font=dict(family=FONT))
fig.write_html("out.html", config={"displayModeBar": False},
               post_script="document.body.style.margin='0';document.body.style.overflow='hidden';")
